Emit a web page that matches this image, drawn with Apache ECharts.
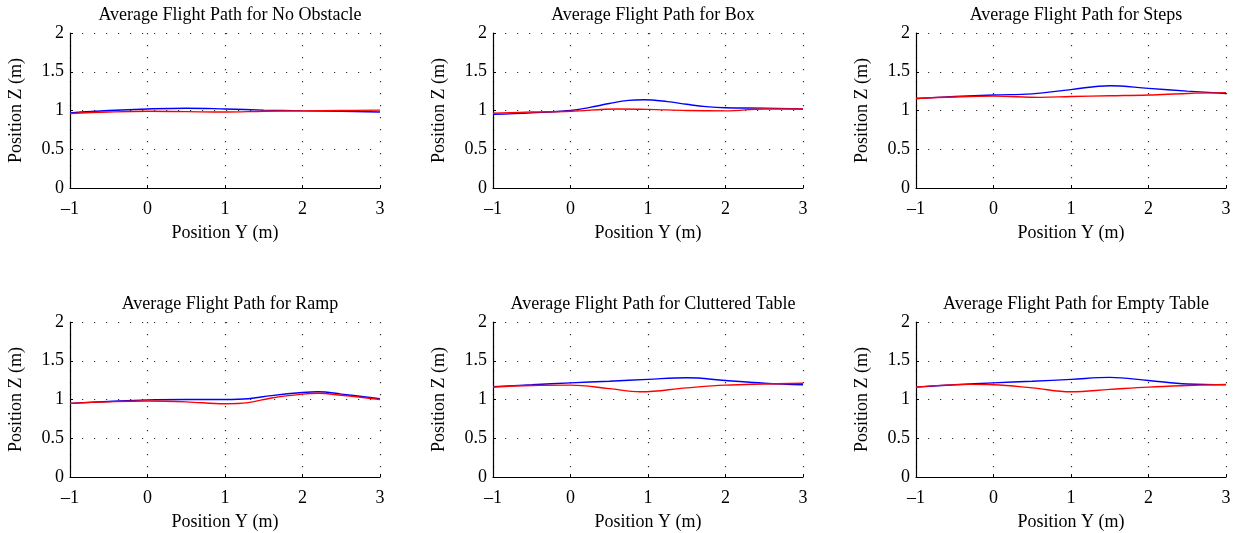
<!DOCTYPE html>
<html>
<head>
<meta charset="utf-8">
<script src="https://cdn.jsdelivr.net/npm/echarts@6/dist/echarts.min.js"></script>
<style>
html,body{margin:0;padding:0;background:#fff;}
#chart{width:1234px;height:533px;}
</style>
</head>
<body>
<div id="chart"></div>
<script>
// ---- Data ----
const titles = [
  "Average Flight Path for No Obstacle",
  "Average Flight Path for Box",
  "Average Flight Path for Steps",
  "Average Flight Path for Ramp",
  "Average Flight Path for Cluttered Table",
  "Average Flight Path for Empty Table"
];
const xTicks = [-1, 0, 1, 2, 3];
const yTicks = [0, 0.5, 1, 1.5, 2];

// [Y position, Z position]
const blueNoObstacle = [[-1,0.97],[-0.5,1.0],[0,1.02],[0.5,1.03],[1,1.02],[1.5,1.005],[2,0.995],[2.5,0.99],[3,0.98]];
const redNoObstacle  = [[-1,0.96],[-0.5,0.98],[0,0.99],[0.5,0.985],[1,0.98],[1.5,0.99],[2,0.995],[2.5,1.0],[3,1.005]];

const blueBox = [[-1,0.95],[-0.5,0.97],[0,1.0],[0.25,1.04],[0.5,1.09],[0.75,1.13],[0.95,1.138],[1.25,1.115],[1.5,1.08],[1.75,1.05],[2,1.035],[2.5,1.03],[3,1.02]];
const redBox  = [[-1,0.965],[-0.5,0.98],[0,0.99],[0.6,1.02],[1,1.015],[1.5,1.0],[2,0.995],[2.5,1.02],[3,1.02]];

const blueSteps = [[-1,1.155],[-0.5,1.18],[0,1.2],[0.5,1.215],[1,1.27],[1.5,1.32],[2,1.285],[2.5,1.25],[3,1.22]];
const redSteps  = [[-1,1.155],[-0.5,1.175],[0,1.185],[0.6,1.17],[1,1.18],[1.5,1.19],[2,1.2],[2.5,1.22],[3,1.23]];

const blueRamp = [[-1,0.95],[-0.5,0.975],[0,0.995],[0.5,1.0],[1,1.0],[1.3,1.01],[1.6,1.05],[2,1.09],[2.2,1.1],[2.5,1.07],[3,1.01]];
const redRamp  = [[-1,0.95],[-0.5,0.97],[0,0.98],[0.5,0.97],[1,0.945],[1.3,0.96],[1.6,1.02],[2,1.07],[2.2,1.08],[2.5,1.055],[3,1.0]];

const blueCluttered = [[-1,1.165],[-0.5,1.19],[0,1.215],[0.5,1.235],[1,1.26],[1.5,1.28],[2,1.245],[2.5,1.21],[3,1.19]];
const redCluttered  = [[-1,1.16],[-0.5,1.18],[0,1.185],[0.5,1.14],[0.9,1.1],[1.5,1.15],[2,1.185],[2.5,1.2],[3,1.21]];

const blueEmpty = [[-1,1.16],[-0.5,1.19],[0,1.215],[0.5,1.235],[1,1.26],[1.5,1.285],[2,1.245],[2.5,1.2],[3,1.19]];
const redEmpty  = [[-1,1.16],[-0.3,1.195],[0,1.19],[0.5,1.15],[1,1.1],[1.5,1.13],[2,1.16],[2.5,1.18],[3,1.195]];

const blueSeries = [blueNoObstacle, blueBox, blueSteps, blueRamp, blueCluttered, blueEmpty];
const redSeries  = [redNoObstacle, redBox, redSteps, redRamp, redCluttered, redEmpty];

// ---- Layout ----
const FONT = "Liberation Serif";
const FS = 18;
const lefts = [70, 493, 916];
const tops = [33, 322];
const W = 310, H = 155;

const grids = [], xAxes = [], yAxes = [], series = [], titleArr = [];
for (let i = 0; i < 6; i++) {
  const r = Math.floor(i / 3), c = i % 3;
  grids.push({left: lefts[c], top: tops[r], width: W, height: H});
  titleArr.push({
    text: titles[i], left: lefts[c] + W / 2, top: tops[r] - 32, textAlign: 'center',
    textStyle: {fontFamily: FONT, fontSize: FS, fontWeight: 'normal', color: '#000'}
  });
  const splitStyle = {show: true, lineStyle: {color: '#333', width: 1.2, type: [1.2, 10.8]}};
  xAxes.push({
    type: 'value', gridIndex: i, min: xTicks[0], max: xTicks[xTicks.length - 1], interval: 1,
    name: 'Position Y (m)', nameLocation: 'middle', nameGap: 36,
    nameTextStyle: {fontFamily: FONT, fontSize: FS, color: '#000'},
    axisLine: {show: true, onZero: false, lineStyle: {color: '#000', width: 1.2}},
    axisTick: {show: true, inside: true, length: 3, lineStyle: {color: '#000'}},
    axisLabel: {fontFamily: FONT, fontSize: FS, color: '#000', margin: 12,
      formatter: v => (v < 0 ? '\u2013' + Math.abs(v) : String(v))},
    splitLine: splitStyle
  });
  yAxes.push({
    type: 'value', gridIndex: i, min: yTicks[0], max: yTicks[yTicks.length - 1], interval: 0.5,
    name: 'Position Z (m)', nameLocation: 'middle', nameGap: 45,
    nameTextStyle: {fontFamily: FONT, fontSize: FS, color: '#000'},
    axisLine: {show: true, onZero: false, lineStyle: {color: '#000', width: 1.2}},
    axisTick: {show: true, inside: true, length: 3, lineStyle: {color: '#000'}},
    axisLabel: {fontFamily: FONT, fontSize: FS, color: '#000', margin: 6},
    splitLine: splitStyle
  });
  series.push({
    type: 'line', xAxisIndex: i, yAxisIndex: i, data: blueSeries[i], smooth: 0.4,
    showSymbol: false, lineStyle: {color: '#0000ff', width: 1.4}, silent: true, z: 3
  });
  series.push({
    type: 'line', xAxisIndex: i, yAxisIndex: i, data: redSeries[i], smooth: 0.4,
    showSymbol: false, lineStyle: {color: '#ff0000', width: 1.4}, silent: true, z: 4
  });
}

const chart = echarts.init(document.getElementById('chart'), null, {renderer: 'canvas'});
chart.setOption({
  animation: false,
  backgroundColor: '#fff',
  title: titleArr,
  grid: grids,
  xAxis: xAxes,
  yAxis: yAxes,
  series: series
});
</script>
</body>
</html>
